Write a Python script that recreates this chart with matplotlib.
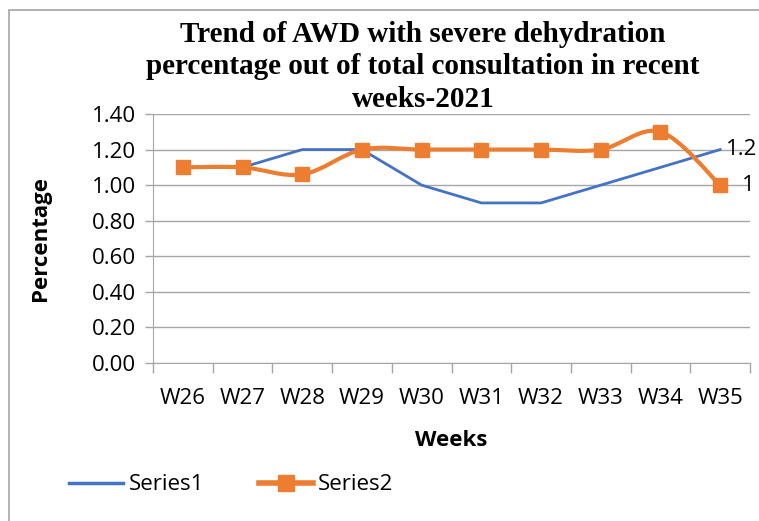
import matplotlib
matplotlib.use("Agg")
import matplotlib.pyplot as plt
from matplotlib.path import Path
from matplotlib.patches import PathPatch, Rectangle
from matplotlib.lines import Line2D
import numpy as np

weeks = ["W26", "W27", "W28", "W29", "W30", "W31", "W32", "W33", "W34", "W35"]
series1 = [1.1, 1.1, 1.2, 1.2, 1.0, 0.9, 0.9, 1.0, 1.1, 1.2]
series2 = [1.1, 1.1, 1.06, 1.2, 1.2, 1.2, 1.2, 1.2, 1.3, 1.0]
yticks = [0.0, 0.2, 0.4, 0.6, 0.8, 1.0, 1.2, 1.4]

BLUE = "#4472C4"
ORANGE = "#ED7D31"
SANS = ["Open Sans", "DejaVu Sans"]
FS = 16

fig = plt.figure(figsize=(7.59, 5.21), dpi=100)
# chart border (only left and top visible in the crop)
fig.patches.append(Rectangle((9/759, -0.1), 1.5, 1 - 10/521 + 0.1, transform=fig.transFigure,
                             fill=False, edgecolor="#A6A6A6", linewidth=1.2))
ax = fig.add_axes([153/759, 1 - 363/521, (750 - 153)/759, (363 - 114)/521])

x = np.arange(len(weeks))
ax.plot(x, series1, color=BLUE, linewidth=2.0, zorder=3)

# smooth orange line (Catmull-Rom Bezier, like Excel smoothing)
pts = np.column_stack([x, series2]).astype(float)
verts = [tuple(pts[0])]
codes = [Path.MOVETO]
n = len(pts)
for i in range(n - 1):
    p0 = pts[i - 1] if i > 0 else pts[i]
    p1 = pts[i]
    p2 = pts[i + 1]
    p3 = pts[i + 2] if i + 2 < n else pts[i + 1]
    c1 = p1 + (p2 - p0) / 6.0
    c2 = p2 - (p3 - p1) / 6.0
    verts += [tuple(c1), tuple(c2), tuple(p2)]
    codes += [Path.CURVE4] * 3
ax.add_patch(PathPatch(Path(verts, codes), fill=False, edgecolor=ORANGE, linewidth=3.0,
                       zorder=4, capstyle="round", joinstyle="round"))
ax.plot(x, series2, linestyle="none", marker="s", markersize=10, color=ORANGE, zorder=5)

# data labels on last points
ax.annotate(f"{series1[-1]:g}", (x[-1], series1[-1]), xytext=(4, 0), textcoords="offset points",
            va="center", ha="left", fontsize=FS, family=SANS, annotation_clip=False)
ax.annotate(f"{series2[-1]:g}", (x[-1], series2[-1]), xytext=(16, 0), textcoords="offset points",
            va="center", ha="left", fontsize=FS, family=SANS, annotation_clip=False)

ax.set_xlim(-0.5, len(weeks) - 0.5)
ax.set_ylim(0, 1.4)
ax.set_yticks(yticks)
ax.set_yticklabels([f"{v:.2f}" for v in yticks], fontsize=FS, family=SANS)
ax.set_xticks(x)
ax.set_xticklabels(weeks, fontsize=FS, family=SANS)
ax.set_xticks(np.arange(-0.5, len(weeks)), minor=True)
ax.tick_params(axis="x", which="major", length=0, pad=18)
ax.tick_params(axis="x", which="minor", length=7, color="#A6A6A6", width=1)
ax.tick_params(axis="y", length=6, color="#A6A6A6", width=1, pad=6)
ax.grid(axis="y", color="#A6A6A6", linewidth=1)
ax.set_axisbelow(True)
for s in ["top", "right"]:
    ax.spines[s].set_visible(False)
ax.spines["left"].set_color("#A6A6A6")
ax.spines["bottom"].set_color("#A6A6A6")

ax.set_ylabel("Percentage", fontsize=FS, fontweight="bold", family=SANS, labelpad=30)
ax.set_xlabel("Weeks", fontsize=FS, fontweight="bold", family=SANS, labelpad=15)

fig.text(0.557, 1 - 67/521, "Trend of AWD with severe dehydration\npercentage out of total consultation in recent\nweeks-2021",
         ha="center", va="center", fontsize=21, fontweight="bold", family=["Liberation Serif"],
         linespacing=1.25)

handles = [Line2D([], [], color=BLUE, linewidth=2.5),
           Line2D([], [], color=ORANGE, linewidth=4.0, marker="s", markersize=11)]
fig.legend(handles, ["Series1", "Series2"], loc="center", bbox_to_anchor=(0.305, 1 - 485/521),
           ncol=2, frameon=False, prop={"family": SANS, "size": FS}, handlelength=2.4,
           columnspacing=2.5, handletextpad=0.25)

fig.savefig("out.png", dpi=100)
